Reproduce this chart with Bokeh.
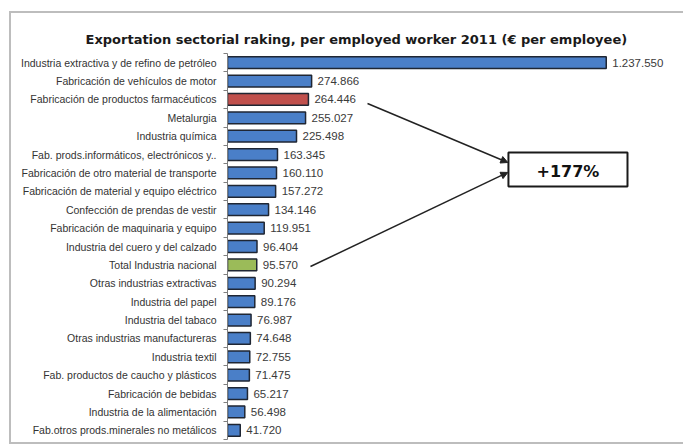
from bokeh.plotting import figure
from bokeh.models import (Range1d, FixedTicker, BoxAnnotation, Label, Arrow,
                          NormalHead, ColumnDataSource)
from bokeh.embed import file_html
from bokeh.resources import INLINE
from bokeh.core.properties import value

title_text = "Exportation sectorial raking, per employed worker 2011 (€ per employee)"

categories = [
    "Industria extractiva y de refino de petróleo",
    "Fabricación de vehículos de motor",
    "Fabricación de productos farmacéuticos",
    "Metalurgia",
    "Industria química",
    "Fab. prods.informáticos, electrónicos y..",
    "Fabricación de otro material de transporte",
    "Fabricación de material y equipo eléctrico",
    "Confección de prendas de vestir",
    "Fabricación de maquinaria y equipo",
    "Industria del cuero y del calzado",
    "Total Industria nacional",
    "Otras industrias extractivas",
    "Industria del papel",
    "Industria del tabaco",
    "Otras industrias manufactureras",
    "Industria textil",
    "Fab. productos de caucho y plásticos",
    "Fabricación de bebidas",
    "Industria de la alimentación",
    "Fab.otros prods.minerales no metálicos",
]
values = [1237550, 274866, 264446, 255027, 225498, 163345, 160110, 157272,
          134146, 119951, 96404, 95570, 90294, 89176, 76987, 74648, 72755,
          71475, 65217, 56498, 41720]
highlight_pharma = "Fabricación de productos farmacéuticos"
highlight_total = "Total Industria nacional"
annotation_text = "+177%"

BLUE = "#4a7fc8"
RED = "#c0504d"
GREEN = "#9bbb59"
FRAME = "#bdbdbd"

n = len(categories)
ypos = list(range(n))
colors = [RED if c == highlight_pharma else GREEN if c == highlight_total else BLUE
          for c in categories]
labels = [f"{v:,}".replace(",", ".") for v in values]

src = ColumnDataSource(dict(y=ypos, v=values, color=colors, lbl=labels))

g = f"linear-gradient({FRAME},{FRAME})"
frame_css = (f"{g} 9px 11px / 674px 2px no-repeat, "
             f"{g} 9px 11px / 2px 433px no-repeat, "
             f"{g} 9px 442px / 674px 2px no-repeat, white")

p = figure(width=683, height=448, output_backend="svg", toolbar_location=None,
           x_range=Range1d(0, 1490000), y_range=Range1d(n - 0.5, -0.5),
           min_border_left=227, min_border_right=0, min_border_top=53,
           min_border_bottom=9, styles={"background": frame_css})
p.border_fill_color = None
p.background_fill_color = None

p.title.text = title_text
p.title.text_font = "DejaVu Sans"
p.title.text_font_size = "13px"
p.title.text_font_style = "bold"
p.title.text_color = "#1a1a1a"
p.title.align = "left"
p.title.offset = -142
p.title.standoff = 14

p.xaxis.visible = False
p.grid.visible = False
p.outline_line_color = None

yax = p.yaxis[0]
yax.ticker = FixedTicker(ticks=ypos, minor_ticks=[i - 0.5 for i in range(n + 1)])
yax.major_label_overrides = {i: c for i, c in enumerate(categories)}
yax.major_tick_out = 0
yax.major_tick_in = 0
yax.minor_tick_out = 4
yax.minor_tick_in = 0
yax.minor_tick_line_color = "#7f7f7f"
yax.axis_line_color = "#7f7f7f"
yax.major_label_standoff = 7
yax.major_label_text_font = "Liberation Sans"
yax.major_label_text_font_size = "10.5px"
yax.major_label_text_color = "#333333"

p.hbar(y="y", left=0, right="v", height=0.64, fill_color="color",
       line_color="#1f2633", line_width=1.5, source=src)

p.text(x="v", y="y", text="lbl", x_offset=6, text_baseline="middle",
       text_font=value("Liberation Sans"), text_font_size="11.5px",
       text_color="#3a3a3a", source=src)

# annotation box
p.add_layout(BoxAnnotation(left=918000, right=1307000, top=4.89, bottom=6.74,
                           fill_color="white", fill_alpha=1,
                           line_color="#1a1a1a", line_alpha=1, line_width=2))
p.add_layout(Label(x=1112500, y=5.9, text=annotation_text, text_align="center",
                   text_baseline="middle", text_font="DejaVu Sans",
                   text_font_style="bold", text_font_size="16px",
                   text_color="#111111"))

p.add_layout(Arrow(end=NormalHead(size=7, fill_color="#222222", line_color="#222222"),
                   x_start=457500, y_start=2.22, x_end=916000, y_end=5.43,
                   line_width=1.5, line_color="#222222"))
p.add_layout(Arrow(end=NormalHead(size=7, fill_color="#222222", line_color="#222222"),
                   x_start=271200, y_start=11.09, x_end=916000, y_end=5.97,
                   line_width=1.5, line_color="#222222"))

open("out.html", "w").write(file_html(p, INLINE))
